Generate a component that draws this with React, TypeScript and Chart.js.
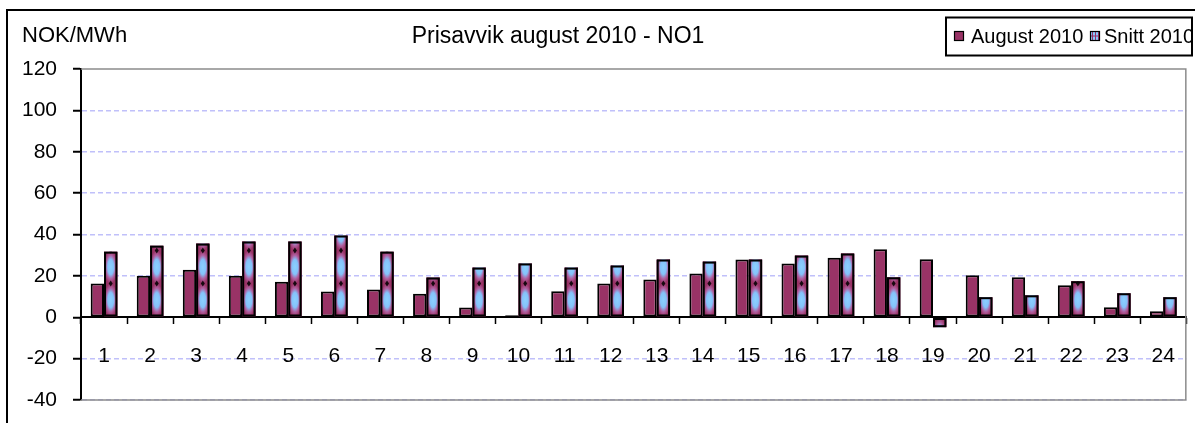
import React, { useEffect, useRef } from "react";
import { Chart, registerables } from "chart.js";

Chart.register(...registerables);

const categories = ["1","2","3","4","5","6","7","8","9","10","11","12","13","14","15","16","17","18","19","20","21","22","23","24"];
const august2010 = [16.3, 20.1, 23, 20.1, 17.2, 12.4, 13.4, 11.4, 4.7, 1, 12.6, 16.3, 18.2, 21.1, 27.9, 26, 28.8, 32.9, 28, 20.3, 19.3, 15.5, 4.8, 2.9];
const snitt2010 = [31.7, 34.6, 35.6, 36.6, 36.6, 39.5, 31.7, 19.2, 24, 26, 24, 25, 27.9, 26.9, 27.9, 29.8, 30.8, 19.3, -4.8, 9.7, 10.6, 17.4, 11.6, 9.7];
const seriesNames = ["August 2010", "Snitt 2010"];
const titleText = "Prisavvik august 2010 - NO1";
const yAxisTitle = "NOK/MWh";
const yMin = -40;
const yMax = 120;
const yStep = 20;

const MAROON = "#993366";
const FONT = "'Liberation Sans', Arial, sans-serif";

function drawPatternRect(ctx: CanvasRenderingContext2D, l: number, t: number, w: number, h: number, base: number, down: boolean) {
  const P = 33;
  ctx.save();
  ctx.beginPath();
  ctx.rect(l, t, w, h);
  ctx.clip();
  ctx.fillStyle = MAROON;
  ctx.fillRect(l, t, w, h);
  const cx = l + w / 2;
  const n = Math.ceil(h / P) + 1;
  for (let k = 0; k < n; k++) {
    const cy = down ? base + (k + 0.5) * P : base - (k + 0.5) * P;
    ctx.save();
    ctx.translate(cx, cy);
    ctx.scale(w / 2, P / 2);
    const g = ctx.createRadialGradient(0, 0, 0, 0, 0, 1);
    g.addColorStop(0, "#8cd0ff");
    g.addColorStop(0.45, "#84c2fa");
    g.addColorStop(0.72, "#b060a0");
    g.addColorStop(1, MAROON);
    ctx.fillStyle = g;
    ctx.fillRect(-1.3, -1, 2.6, 2);
    ctx.restore();
    // small dark pinch mark between ellipses
    const py = down ? base + k * P : base - k * P;
    if (k > 0) {
      ctx.fillStyle = "rgba(0,0,0,0.85)";
      ctx.beginPath();
      ctx.moveTo(cx, py - 3);
      ctx.lineTo(cx + 2, py);
      ctx.lineTo(cx, py + 3);
      ctx.lineTo(cx - 2, py);
      ctx.closePath();
      ctx.fill();
    }
  }
  ctx.restore();
  ctx.save();
  ctx.strokeStyle = "#000";
  ctx.lineWidth = 2;
  ctx.strokeRect(l + 1, t + 1, w - 2, h - 2);
  ctx.restore();
}

const decorPlugin = {
  id: "decor",
  beforeDraw(chart: any) {
    const ctx = chart.ctx;
    ctx.save();
    ctx.fillStyle = "#fff";
    ctx.fillRect(0, 0, chart.width, chart.height);
    ctx.restore();
  },
  beforeDatasetsDraw(chart: any) {
    const { ctx, chartArea } = chart;
    ctx.save();
    ctx.strokeStyle = "#8c8c8c";
    ctx.lineWidth = 1.5;
    ctx.beginPath();
    ctx.moveTo(chartArea.left, chartArea.top);
    ctx.lineTo(chartArea.right - 0.5, chartArea.top);
    ctx.lineTo(chartArea.right - 0.5, chartArea.bottom);
    ctx.lineTo(chartArea.left, chartArea.bottom);
    ctx.stroke();
    ctx.restore();
  },
  afterDatasetsDraw(chart: any) {
    const ctx = chart.ctx;
    const meta = chart.getDatasetMeta(1);
    meta.data.forEach((el: any) => {
      const p = el.getProps(["x", "y", "base", "width"], true);
      const l = p.x - p.width / 2;
      const t = Math.min(p.y, p.base);
      const h = Math.abs(p.base - p.y);
      if (h > 0.5) drawPatternRect(ctx, l, t, p.width, h, p.base, p.y > p.base);
    });
  },
  afterDraw(chart: any) {
    const ctx = chart.ctx;
    ctx.save();
    // outer frame
    ctx.strokeStyle = "#000";
    ctx.lineWidth = 2;
    ctx.beginPath();
    ctx.moveTo(7, chart.height + 2);
    ctx.lineTo(7, 10);
    ctx.lineTo(chart.width + 2, 10);
    ctx.stroke();
    // title
    ctx.fillStyle = "#000";
    ctx.textBaseline = "middle";
    ctx.textAlign = "center";
    ctx.font = `23px ${FONT}`;
    ctx.fillText(titleText, 558, 37);
    // y axis title
    ctx.textAlign = "left";
    ctx.font = `22px ${FONT}`;
    ctx.fillText(yAxisTitle, 22, 36);
    // legend
    const bx = 946, by = 17.5, bw = 246, bh = 38;
    ctx.fillStyle = "#fff";
    ctx.fillRect(bx, by, bw, bh);
    ctx.save();
    ctx.beginPath();
    ctx.rect(bx, by, bw, bh);
    ctx.clip();
    ctx.fillStyle = MAROON;
    ctx.fillRect(954, 31, 10, 10);
    ctx.strokeStyle = "#000";
    ctx.lineWidth = 1.2;
    ctx.strokeRect(954.5, 31.5, 9, 9);
    ctx.fillStyle = "#000";
    ctx.font = `20px ${FONT}`;
    ctx.textAlign = "left";
    ctx.textBaseline = "middle";
    ctx.fillText(seriesNames[0], 971, 37);
    // marker 2
    ctx.fillStyle = "#8cc8ff";
    ctx.fillRect(1090, 31, 10, 10);
    ctx.fillStyle = MAROON;
    ctx.fillRect(1092, 32, 1, 8);
    ctx.fillRect(1095, 32, 1, 8);
    ctx.fillRect(1098, 32, 1, 8);
    ctx.fillRect(1091, 35.5, 8, 1);
    ctx.strokeStyle = "#000";
    ctx.strokeRect(1090.5, 31.5, 9, 9);
    ctx.fillStyle = "#000";
    ctx.fillText(seriesNames[1], 1104, 37);
    ctx.restore();
    ctx.strokeStyle = "#000";
    ctx.lineWidth = 2;
    ctx.strokeRect(bx, by, bw, bh);
    ctx.restore();
  },
};

export default function App() {
  const ref = useRef<HTMLCanvasElement | null>(null);
  useEffect(() => {
    if (!ref.current) return;
    const chart = new Chart(ref.current, {
      type: "bar",
      data: {
        labels: categories,
        datasets: [
          {
            label: seriesNames[0],
            data: august2010,
            backgroundColor: MAROON,
            borderColor: "#000",
            borderWidth: 2,
            borderSkipped: false,
            categoryPercentage: 0.58,
            barPercentage: 1,
          },
          {
            label: seriesNames[1],
            data: snitt2010,
            backgroundColor: "#8cc8ff",
            borderColor: "#000",
            borderWidth: 2,
            borderSkipped: false,
            categoryPercentage: 0.58,
            barPercentage: 1,
          },
        ],
      },
      options: {
        responsive: false,
        animation: false,
        layout: { padding: { left: 0, top: 69, right: 1, bottom: 23 } },
        plugins: {
          legend: { display: false },
          title: { display: false },
          tooltip: { enabled: false },
        },
        scales: {
          x: {
            type: "category",
            position: { y: 0 } as any,
            offset: true,
            grid: {
              offset: true,
              drawOnChartArea: false,
              drawTicks: true,
              tickLength: 6,
              tickColor: "#000",
              tickWidth: 1.5,
            },
            border: { display: true, color: "#000", width: 2 },
            ticks: {
              color: "#000",
              font: { family: FONT, size: 21 },
              padding: 20,
              maxRotation: 0,
              autoSkip: false,
            },
          },
          y: {
            type: "linear",
            position: "left",
            min: yMin,
            max: yMax,
            afterFit: (scale: any) => {
              scale.width = 81;
              scale.paddingTop = 0;
              scale.paddingBottom = 0;
            },
            grid: {
              color: (c: any) => (c.tick && (c.tick.value === 0 || c.tick.value === yMax) ? "rgba(0,0,0,0)" : "#c0c0fa"),
              lineWidth: 1.5,
              drawTicks: true,
              tickLength: 8,
              tickColor: "#000",
              tickWidth: 2,
              tickBorderDash: [],
            } as any,
            border: { display: true, color: "#000", width: 2, dash: [5, 3] },
            ticks: {
              stepSize: yStep,
              color: "#000",
              font: { family: FONT, size: 21 },
              padding: 16,
            },
          },
        },
      },
      plugins: [decorPlugin],
    });
    return () => chart.destroy();
  }, []);
  return (
    <div style={{ position: "fixed", left: 0, top: 0, width: 1195, height: 423 }}>
      <canvas ref={ref} width={1195} height={423} style={{ display: "block" }} />
    </div>
  );
}
